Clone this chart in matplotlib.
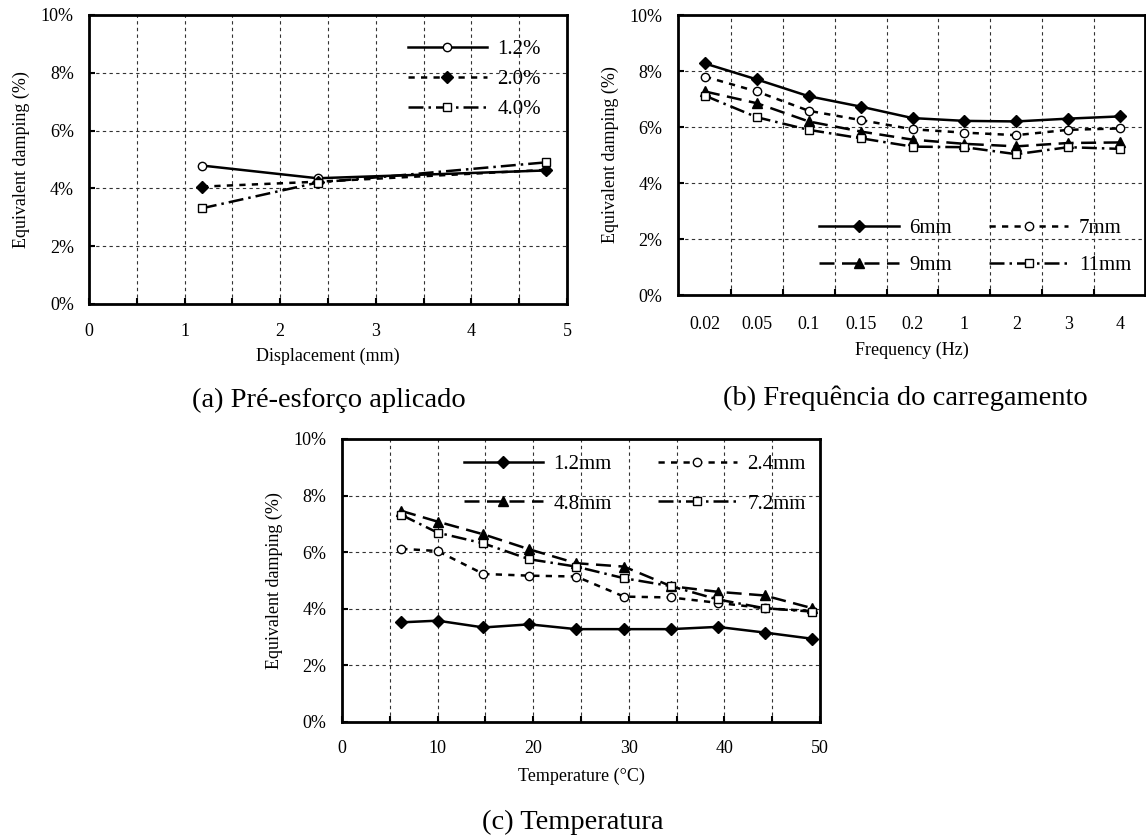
import matplotlib
matplotlib.use("Agg")
import matplotlib.pyplot as plt
from matplotlib.ticker import FuncFormatter, MultipleLocator
import numpy as np

plt.rcParams["font.family"] = ["Liberation Serif", "DejaVu Serif"]

# (a) prestress level vs displacement
disp_mm = [1.18, 2.39, 4.78]
a_12 = [4.79, 4.35, 4.62]
a_20 = [4.06, 4.23, 4.64]
a_40 = [3.31, 4.20, 4.90]
a_labels = ["1.2%", "2.0%", "4.0%"]

# (b) loading frequency
freq_labels = ["0.02", "0.05", "0.1", "0.15", "0.2", "1", "2", "3", "4"]
b_6 = [8.27, 7.70, 7.10, 6.73, 6.32, 6.22, 6.20, 6.30, 6.38]
b_7 = [7.80, 7.27, 6.58, 6.25, 5.92, 5.80, 5.71, 5.90, 5.95]
b_9 = [7.27, 6.85, 6.20, 5.84, 5.55, 5.40, 5.31, 5.43, 5.45]
b_11 = [7.12, 6.35, 5.90, 5.60, 5.30, 5.28, 5.03, 5.28, 5.22]
b_labels = ["6mm", "7mm", "9mm", "11mm"]

# (c) temperature
temp_c = [6.2, 10.0, 14.8, 19.6, 24.5, 29.5, 34.4, 39.3, 44.2, 49.2]
c_12 = [3.52, 3.58, 3.34, 3.45, 3.28, 3.28, 3.28, 3.36, 3.16, 2.94]
c_24 = [6.12, 6.04, 5.23, 5.17, 5.14, 4.43, 4.40, 4.21, 4.02, 3.92]
c_48 = [7.46, 7.08, 6.63, 6.10, 5.61, 5.49, 4.80, 4.60, 4.47, 4.02]
c_72 = [7.32, 6.69, 6.31, 5.75, 5.49, 5.08, 4.80, 4.33, 4.02, 3.90]
c_labels = ["1.2mm", "2.4mm", "4.8mm", "7.2mm"]

styles = [
    dict(ls="-", marker="D", mfc="black", ms=6),
    dict(ls=(0, (2.5, 2.5)), marker="o", mfc="white", ms=6),
    dict(ls=(0, (6, 3)), marker="^", mfc="black", ms=7),
    dict(ls=(0, (6, 2, 1, 2)), marker="s", mfc="white", ms=6),
]
open_first = [dict(styles[0], marker="o", mfc="white"), dict(styles[1], marker="D", mfc="black"), styles[3]]

pct = FuncFormatter(lambda v, p: f"{v:.0f}%")
LEG = dict(frameon=False, fontsize=15, handlelength=3.8, handletextpad=0.5,
           borderaxespad=0, borderpad=0)
ROW_ORDER = [0, 2, 1, 3]  # legend fills by column; this gives row-wise order


def style_axes(ax, xpad):
    ax.set_ylim(0, 10)
    ax.yaxis.set_major_locator(MultipleLocator(2))
    ax.yaxis.set_major_formatter(pct)
    ax.grid(True, which="both", ls=(0, (3, 3)), lw=0.8, color="#333333")
    ax.tick_params(direction="in", length=4, width=1.5, labelsize=13, which="both")
    ax.tick_params(axis="y", pad=11)
    ax.tick_params(axis="x", pad=xpad)
    for s in ax.spines.values():
        s.set_linewidth(2)
    ax.set_ylabel("Equivalent damping (%)", fontsize=13, labelpad=8)
    ax.set_axisbelow(True)


def row_legend(ax, **kw):
    h, l = ax.get_legend_handles_labels()
    ax.legend([h[i] for i in ROW_ORDER], [l[i] for i in ROW_ORDER], ncol=2, **kw, **LEG)


fig = plt.figure(figsize=(11.46, 8.36), dpi=100)

# panel a
ax = fig.add_axes([0.0777, 0.6364, 0.4171, 0.3457])
for y, lab, st in zip([a_12, a_20, a_40], a_labels, open_first):
    ax.plot(disp_mm, y, color="black", lw=1.8, mec="black", label=lab, **st)
ax.set_xlim(0, 5)
ax.xaxis.set_major_locator(MultipleLocator(1))
ax.xaxis.set_minor_locator(MultipleLocator(0.5))
style_axes(ax, 14)
ax.set_xlabel("Displacement (mm)", fontsize=13, labelpad=5)
ax.legend(loc="upper right", labelspacing=0.5, bbox_to_anchor=(0.945, 0.915), **LEG)
fig.text(0.287, 1 - 400 / 836, "(a) Pré-esforço aplicado", ha="center", va="center", fontsize=20.5)

# panel b
ax = fig.add_axes([0.5916, 0.6471, 0.4075, 0.3349])
xb = np.arange(len(freq_labels))
for y, lab, st in zip([b_6, b_7, b_9, b_11], b_labels, styles):
    ax.plot(xb, y, color="black", lw=1.8, mec="black", label=lab, **st)
ax.set_xlim(-0.52, len(freq_labels) - 0.52)
ax.set_xticks(xb, freq_labels)
ax.set_xticks(xb[:-1] + 0.5, minor=True)
style_axes(ax, 15)
ax.xaxis.grid(False, which="major")
ax.tick_params(axis="x", which="major", length=0)
ax.set_xlabel("Frequency (Hz)", fontsize=13, labelpad=6)
row_legend(ax, loc="lower right", columnspacing=1.8, labelspacing=0.85,
           bbox_to_anchor=(0.97, 0.07))
fig.text(0.79, 1 - 398 / 836, "(b) Frequência do carregamento", ha="center", va="center", fontsize=20.5)

# panel c
ax = fig.add_axes([0.2984, 0.1364, 0.4171, 0.3385])
for y, lab, st in zip([c_12, c_24, c_48, c_72], c_labels, styles):
    ax.plot(temp_c, y, color="black", lw=1.8, mec="black", label=lab, **st)
ax.set_xlim(0, 50)
ax.xaxis.set_major_locator(MultipleLocator(10))
ax.xaxis.set_minor_locator(MultipleLocator(5))
style_axes(ax, 13)
ax.set_xlabel("Temperature (°C)", fontsize=13, labelpad=8)
row_legend(ax, loc="upper right", columnspacing=2.2, labelspacing=0.95,
           bbox_to_anchor=(0.97, 0.945))
fig.text(0.5, 1 - 822 / 836, "(c) Temperatura", ha="center", va="center", fontsize=20.5)

fig.savefig("out.png", dpi=100)
